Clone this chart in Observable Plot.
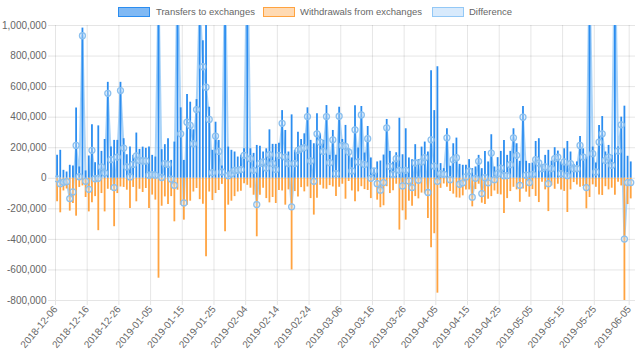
<!DOCTYPE html>
<html><head><meta charset="utf-8">
<script src="https://cdn.jsdelivr.net/npm/d3@7"></script>
<script src="https://cdn.jsdelivr.net/npm/@observablehq/plot@0.6"></script>
<style>
body{margin:0;background:#fff;font-family:"Liberation Sans",Arial,sans-serif;}
#wrap{width:640px;height:361px;position:relative;overflow:hidden;background:#fff}
#legend{position:relative;height:20px;width:640px;font-size:9.5px;color:#666}
.box{position:absolute;top:7px;height:8px;width:30px;border:1px solid}
.lab{position:absolute;top:5px;line-height:13px;white-space:nowrap}
</style></head>
<body><div id="wrap"><div id="legend"></div><div id="chart"></div></div>
<script>
const startDate = "2018-12-06";
const dayCount = 182;
const seriesNames = ["Transfers to exchanges", "Withdrawals from exchanges", "Difference"];
const xTickLabels = ["2018-12-06","2018-12-16","2018-12-26","2019-01-05","2019-01-15","2019-01-25","2019-02-04","2019-02-14","2019-02-24","2019-03-06","2019-03-16","2019-03-26","2019-04-05","2019-04-15","2019-04-25","2019-05-05","2019-05-15","2019-05-25","2019-06-05"];
const yTicks = [-800000,-600000,-400000,-200000,0,200000,400000,600000,800000,1000000];

const transfers = [
150e3,183e3,52e3,41e3,85e3,80e3,460e3,74e3,983e3,48e3,
146e3,350e3,102e3,343e3,176e3,254e3,628e3,204e3,248e3,248e3,
628e3,259e3,154e3,204e3,150e3,296e3,189e3,204e3,196e3,204e3,
150e3,139e3,1900e3,187e3,220e3,259e3,117e3,237e3,1500e3,461e3,
117e3,548e3,498e3,317e3,515e3,1300e3,900e3,1110e3,465e3,183e3,
367e3,248e3,80e3,1700e3,204e3,183e3,172e3,139e3,150e3,193e3,
1600e3,193e3,163e3,215e3,209e3,172e3,193e3,317e3,222e3,222e3,
230e3,443e3,313e3,172e3,415e3,183e3,302e3,254e3,291e3,461e3,
248e3,226e3,422e3,291e3,248e3,476e3,150e3,313e3,150e3,465e3,
254e3,346e3,193e3,133e3,474e3,198e3,470e3,165e3,339e3,133e3,
63e3,107e3,113e3,152e3,385e3,176e3,107e3,167e3,393e3,154e3,
324e3,133e3,122e3,220e3,122e3,204e3,237e3,172e3,704e3,443e3,
730e3,96e3,63e3,324e3,78e3,226e3,263e3,91e3,85e3,85e3,
122e3,63e3,74e3,150e3,63e3,176e3,107e3,285e3,74e3,135e3,
176e3,248e3,150e3,176e3,324e3,226e3,111e3,470e3,111e3,96e3,
100e3,241e3,259e3,89e3,150e3,183e3,113e3,200e3,178e3,107e3,
193e3,241e3,172e3,91e3,107e3,274e3,193e3,139e3,1500e3,204e3,
100e3,346e3,404e3,172e3,215e3,150e3,1600e3,204e3,400e3,472e3,
144e3,107e3];

const withdrawals = [
-154e3,-226e3,-83e3,-70e3,-215e3,-165e3,-248e3,-60e3,-50e3,-126e3,
-220e3,-160e3,-120e3,-343e3,-100e3,-220e3,-72e3,-78e3,-317e3,-100e3,
-57e3,-60e3,-78e3,-198e3,-60e3,-154e3,-72e3,-93e3,-67e3,-198e3,
-110e3,-143e3,-654e3,-183e3,-122e3,-172e3,-120e3,-285e3,-78e3,-176e3,
-274e3,-176e3,-150e3,-90e3,-67e3,-140e3,-170e3,-513e3,-90e3,-146e3,
-100e3,-80e3,-40e3,-350e3,-176e3,-150e3,-120e3,-90e3,-85e3,-35e3,
-46e3,-65e3,-111e3,-383e3,-111e3,-65e3,-133e3,-161e3,-126e3,-165e3,
-80e3,-83e3,-176e3,-76e3,-600e3,-87e3,-122e3,-61e3,-89e3,-57e3,
-133e3,-241e3,-130e3,-46e3,-70e3,-72e3,-48e3,-57e3,-120e3,-59e3,
-39e3,-137e3,-21e3,-83e3,-154e3,-89e3,-55e3,-74e3,-80e3,-133e3,
-15e3,-143e3,-193e3,-180e3,-55e3,-100e3,-81e3,-39e3,-339e3,-213e3,
-274e3,-150e3,-183e3,-120e3,-135e3,-97e3,-102e3,-263e3,-454e3,-363e3,
-752e3,-66e3,-37e3,-59e3,-87e3,-104e3,-128e3,-130e3,-115e3,-76e3,
-76e3,-187e3,-74e3,-39e3,-163e3,-172e3,-137e3,-120e3,-83e3,-105e3,
-109e3,-231e3,-133e3,-87e3,-59e3,-76e3,-157e3,-70e3,-91e3,-124e3,
-74e3,-119e3,-159e3,-26e3,-76e3,-218e3,-50e3,-72e3,-39e3,-77e3,
-86e3,-224e3,-76e3,-28e3,-44e3,-59e3,-54e3,-200e3,-126e3,-43e3,
-59e3,-109e3,-113e3,-55e3,-76e3,-65e3,-111e3,-26e3,-50e3,-870e3,
-172e3,-135e3];

const difference = [
-4e3,-35e3,-26e3,-22e3,-133e3,-89e3,215e3,10e3,933e3,-20e3,
-72e3,183e3,-3e3,0,74e3,35e3,556e3,122e3,-61e3,139e3,
574e3,198e3,74e3,9e3,91e3,146e3,117e3,113e3,113e3,20e3,
24e3,20e3,1246e3,5e3,96e3,91e3,-5e3,-46e3,1420e3,291e3,
-161e3,367e3,346e3,226e3,450e3,1160e3,730e3,596e3,385e3,37e3,
276e3,176e3,41e3,1350e3,17e3,30e3,52e3,52e3,57e3,150e3,
1554e3,128e3,52e3,-172e3,96e3,107e3,67e3,154e3,96e3,57e3,
150e3,360e3,139e3,96e3,-187e3,96e3,183e3,193e3,200e3,404e3,
113e3,-20e3,291e3,237e3,176e3,404e3,102e3,252e3,30e3,406e3,
215e3,209e3,172e3,48e3,317e3,107e3,415e3,91e3,259e3,0,
48e3,-35e3,-78e3,-28e3,330e3,78e3,26e3,128e3,52e3,-50e3,
52e3,-17e3,-61e3,100e3,-13e3,107e3,135e3,-93e3,252e3,80e3,
-20e3,30e3,26e3,265e3,-9e3,122e3,135e3,-39e3,-30e3,9e3,
46e3,-124e3,0,111e3,-100e3,4e3,-30e3,165e3,-9e3,30e3,
67e3,17e3,17e3,89e3,265e3,150e3,-46e3,400e3,20e3,-28e3,
26e3,122e3,100e3,63e3,74e3,-35e3,63e3,128e3,139e3,30e3,
107e3,17e3,96e3,63e3,63e3,215e3,139e3,-61e3,1374e3,161e3,
41e3,237e3,291e3,117e3,139e3,85e3,1489e3,178e3,350e3,-398e3,
-28e3,-28e3];

const colors = {
  transfers: {stroke: "#2b8df0", fill: "#80b9f4"},
  withdrawals: {stroke: "#ffa340", fill: "#ffdab3"},
  difference: {stroke: "#93c8f6", fill: "#d8eafc"}
};

// legend
const legendPos = [[118, 156], [263, 300], [432, 469]];
const legendCols = [colors.transfers, colors.withdrawals, colors.difference];
const legend = document.getElementById("legend");
seriesNames.forEach((name, i) => {
  const b = document.createElement("div");
  b.className = "box";
  b.style.left = legendPos[i][0] + "px";
  b.style.background = legendCols[i].fill;
  b.style.borderColor = legendCols[i].stroke;
  legend.appendChild(b);
  const t = document.createElement("div");
  t.className = "lab";
  t.style.left = legendPos[i][1] + "px";
  t.textContent = name;
  legend.appendChild(t);
});

const start = new Date(startDate + "T00:00:00Z");
const dates = d3.utcDay.range(start, d3.utcDay.offset(start, dayCount));
const table = dates.map((date, i) => ({
  date, mid: new Date(+date + 12 * 3600e3),
  t: transfers[i], w: withdrawals[i], d: difference[i]
}));
const xTicks = xTickLabels.map(s => new Date(s + "T00:00:00Z"));

const chart = Plot.plot({
  width: 640, height: 341,
  marginTop: 5, marginBottom: 61, marginLeft: 55, marginRight: 5,
  style: {fontFamily: "Liberation Sans, Arial, sans-serif", fontSize: "10px", color: "#666", background: "transparent"},
  x: {type: "utc", domain: [start, d3.utcDay.offset(start, dayCount + 1)], label: null},
  y: {domain: [-800000, 1000000], label: null},
  marks: [
    Plot.gridY(yTicks, {stroke: "#000", strokeOpacity: 0.1}),
    Plot.gridX(xTicks, {stroke: "#000", strokeOpacity: 0.1}),
    Plot.axisY(yTicks, {tickSize: 7, tickPadding: 2, stroke: "#e4e4e4", color: "#666", label: null,
      tickFormat: d => d.toLocaleString("en-US")}),
    Plot.axisX(xTicks, {tickSize: 5, tickPadding: 2, tickRotate: -50, stroke: "#e4e4e4", color: "#666", label: null,
      tickFormat: d3.utcFormat("%Y-%m-%d")}),
    Plot.line(table, {x: "mid", y: "d", stroke: colors.difference.stroke, strokeWidth: 2, strokeOpacity: 0.8, clip: true}),
    Plot.ruleX(table, {x: "mid", y1: 0, y2: "t", stroke: colors.transfers.stroke, strokeWidth: 1.8, clip: true}),
    Plot.ruleX(table, {x: "mid", y1: 0, y2: "w", stroke: colors.withdrawals.stroke, strokeWidth: 1.8, clip: true}),
    Plot.dot(table, {x: "mid", y: "d", r: 3, stroke: "#8cc0ee", strokeWidth: 1.3, fill: "#cfe5fb", fillOpacity: 0.4, clip: true})
  ]
});
document.getElementById("chart").appendChild(chart);
</script>
</body></html>
